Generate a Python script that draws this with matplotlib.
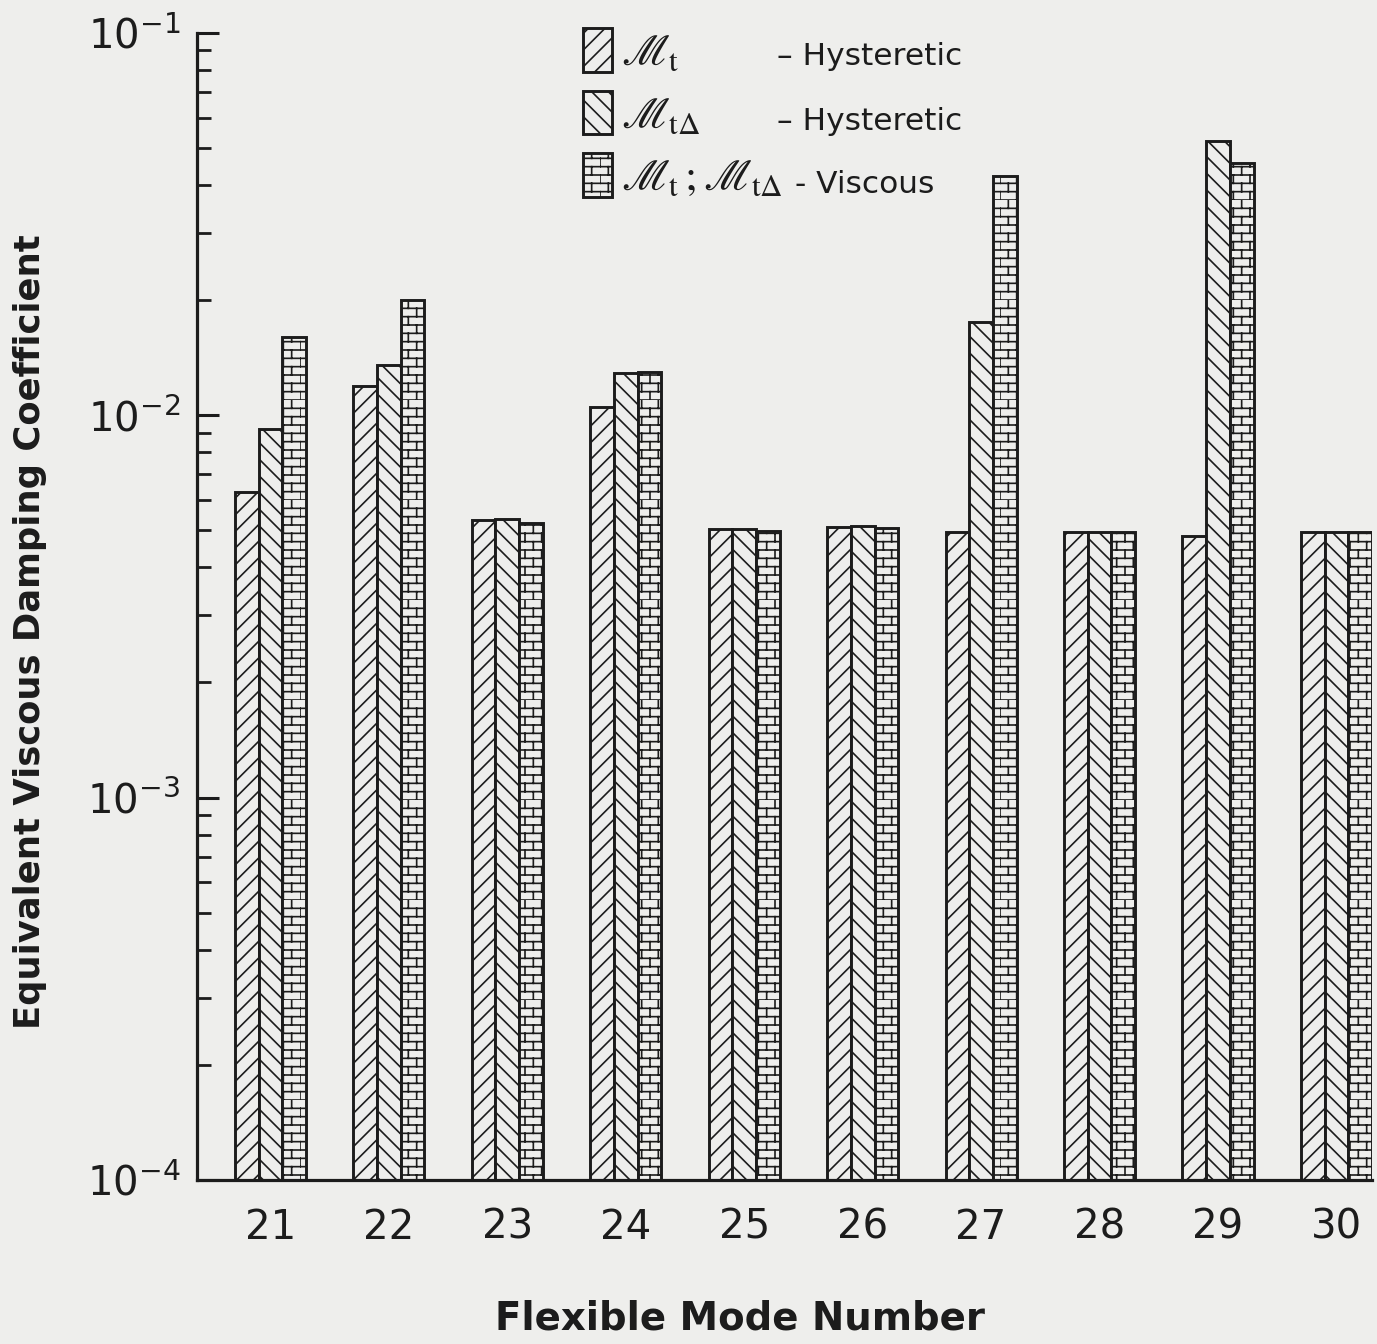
import numpy as np
import matplotlib
matplotlib.use('Agg')
import matplotlib.pyplot as plt
import matplotlib.hatch as mhatch
from matplotlib.path import Path
from matplotlib.patches import Patch

# ---------------- data ----------------
modes = [21, 22, 23, 24, 25, 26, 27, 28, 29, 30]
tick_labels = [str(m) for m in modes]
mt_hysteretic = [6.29e-3, 1.19e-2, 5.31e-3, 1.048e-2, 5.03e-3, 5.10e-3, 4.94e-3, 4.94e-3, 4.82e-3, 4.94e-3]
mtd_hysteretic = [9.18e-3, 1.356e-2, 5.34e-3, 1.287e-2, 5.03e-3, 5.13e-3, 1.75e-2, 4.94e-3, 5.21e-2, 4.94e-3]
viscous = [1.60e-2, 2.006e-2, 5.21e-3, 1.295e-2, 4.97e-3, 5.07e-3, 4.22e-2, 4.94e-3, 4.55e-2, 4.94e-3]
series_labels = [r'$\mathscr{M}_{\mathrm{t}}$',
                 r'$\mathscr{M}_{\mathrm{t\Delta}}$',
                 r'$\mathscr{M}_{\mathrm{t}}\,;\mathscr{M}_{\mathrm{t\Delta}}$']
series_desc = ['– Hysteretic', '– Hysteretic', '- Viscous']
series_hatch = ['//', '\\\\', 'O']
y_label = 'Equivalent Viscous Damping Coefficient'
x_label = 'Flexible Mode Number'


# ---------------- brick hatch (replaces large-circle hatch 'O') ----------------
class BrickHatch(mhatch.HatchPatternBase):
    ROWS = 12
    COLS = 6

    def __init__(self, hatch, density):
        n = hatch.count('O')
        if n > 0:
            self.num_vertices = 2 * self.ROWS + 2 * self.ROWS * self.COLS
        else:
            self.num_vertices = 0

    def set_vertices_and_codes(self, vertices, codes):
        R, C = self.ROWS, self.COLS
        k = 0
        for i in range(R):
            y = i / R
            vertices[k] = (0.0, y); codes[k] = Path.MOVETO; k += 1
            vertices[k] = (1.0, y); codes[k] = Path.LINETO; k += 1
        for i in range(R):
            y0, y1 = i / R, (i + 1) / R
            off = 0.5 * (i % 2)
            for j in range(C):
                xx = (j + off) / C
                vertices[k] = (xx, y0); codes[k] = Path.MOVETO; k += 1
                vertices[k] = (xx, y1); codes[k] = Path.LINETO; k += 1


mhatch._hatch_types[mhatch._hatch_types.index(mhatch.LargeCircles)] = BrickHatch

# ---------------- style ----------------
paper = '#eeeeec'
ink = '#1c1c1c'
plt.rcParams['font.family'] = ['DejaVu Sans']
plt.rcParams['hatch.linewidth'] = 1.2
plt.rcParams['hatch.color'] = ink

W, H = 1377, 1344
fig = plt.figure(figsize=(W / 100, H / 100), dpi=100, facecolor=paper)
ax = fig.add_axes([197 / W, 1 - 1180 / H, (1372 - 197) / W, (1180 - 32.7) / H])
ax.set_facecolor('none')
ax.set_yscale('log')

x = np.arange(len(modes))
width = 0.2
all_series = [mt_hysteretic, mtd_hysteretic, viscous]
handles = []
for k, (vals, hat, lab) in enumerate(zip(all_series, series_hatch, series_labels)):
    ax.bar(x + (k - 1) * width, vals, width=width, facecolor=paper,
           edgecolor=ink, linewidth=2.1, hatch=hat, zorder=2)
    handles.append(Patch(facecolor=paper, edgecolor=ink, linewidth=2.1,
                         hatch=hat, label=lab))

ax.set_ylim(1e-4, 1e-1)
ax.set_xlim(-0.62, 9.30)
ax.set_xticks(x)
ax.set_xticklabels(tick_labels)

for s in ['top', 'right']:
    ax.spines[s].set_visible(False)
for s in ['left', 'bottom']:
    ax.spines[s].set_linewidth(2.3)
    ax.spines[s].set_color(ink)

ax.tick_params(axis='x', length=0, pad=20, labelsize=29, labelcolor=ink)
ax.tick_params(axis='y', which='major', direction='in', length=16, width=2.2,
               pad=12, labelsize=29, labelcolor=ink, color=ink)
ax.tick_params(axis='y', which='minor', direction='in', length=10, width=2.0,
               color=ink)

ax.set_xlabel(x_label, fontsize=27.8, fontweight='bold', color=ink, va='center')
ax.xaxis.set_label_coords((740 - 197) / 1175, (1180 - 1318) / 1147.3)
ax.set_ylabel(y_label, fontsize=25.5, fontweight='bold', color=ink, va='center')
ax.yaxis.set_label_coords((30 - 197) / 1175, (1180 - 632) / 1147.3)

leg = ax.legend(handles=handles, loc='upper left',
                bbox_to_anchor=(583 / W, 1 - 28 / H), bbox_transform=fig.transFigure,
                frameon=False, fontsize=32, handlelength=0.65, handleheight=1.13,
                labelspacing=0.38, handletextpad=0.2, borderpad=0, borderaxespad=0)
for t in leg.get_texts():
    t.set_math_fontfamily('stix')
    t.set_color(ink)

for desc, xp, yp in zip(series_desc, [777, 777, 795], [65, 130, 193]):
    fig.text(xp / W, 1 - yp / H, desc, fontsize=22.5, color=ink, ha='left', va='baseline')

fig.savefig('out.png', dpi=100, facecolor=paper)
